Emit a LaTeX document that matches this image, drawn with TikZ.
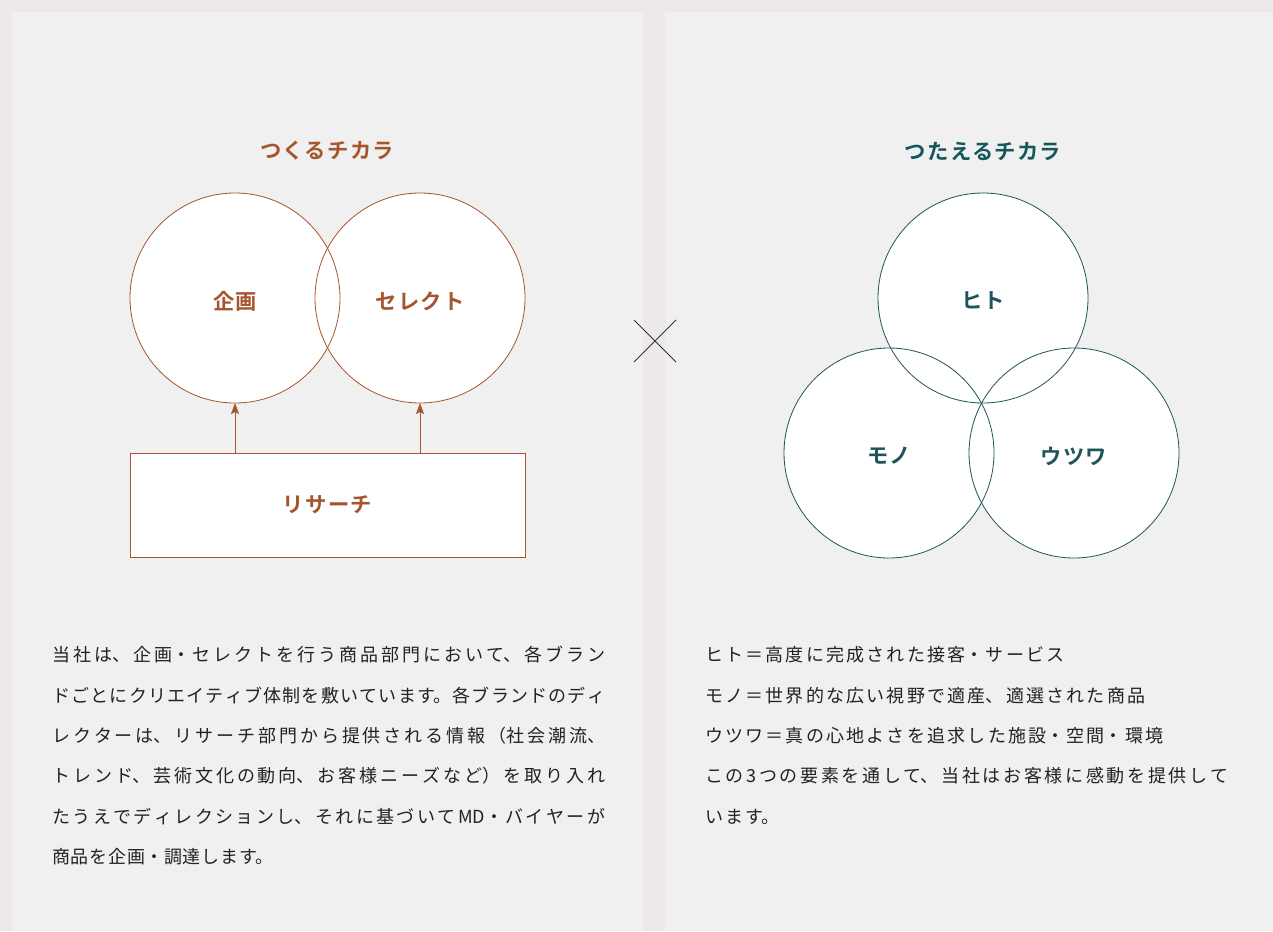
\documentclass[tikz,border=0pt]{standalone}
\usepackage{fontspec}
\usetikzlibrary{arrows.meta}
\setmainfont{Noto Sans CJK JP}
\newfontfamily\jpbody{Noto Sans CJK JP}
\newfontfamily\jptitle[LetterSpace=6]{Noto Sans CJK JP Bold}
\definecolor{outerbg}{HTML}{EDE9E8}
\definecolor{panelbg}{HTML}{EFF0EF}
\definecolor{brown}{HTML}{A6552F}
\definecolor{tealtitle}{HTML}{14585E}
\definecolor{tealline}{HTML}{1F5459}
\definecolor{bodytext}{HTML}{222222}
\newcommand{\jpjustify}[1]{\XeTeXlinebreaklocale "ja"\XeTeXlinebreakskip=#1 plus 6pt minus 1pt\relax
\tolerance=10000\parfillskip=0pt plus 1fil\relax}
\tikzset{
  panel/.style={fill=panelbg, draw=none},
  circfill/.style={circle, fill=white, minimum size=210pt, inner sep=0pt, draw=none},
  brownline/.style={draw=brown, line width=0.8pt},
  tealring/.style={draw=tealline, line width=0.8pt},
  titletext/.style={font=\jptitle\fontsize{21.3}{24}\selectfont, inner sep=0pt},
  bodypar/.style={anchor=base west, text=bodytext, inner sep=0pt, align=justify, font=\jpbody\fontsize{18}{40.3}\selectfont},
  uparrow/.style={draw=brown, line width=0.8pt, -{Stealth[length=11pt,width=8pt,inset=2pt]}},
  crossline/.style={draw=black!80, line width=0.9pt}
}
\begin{document}
\begin{tikzpicture}[x=1pt,y=-1pt]
\useasboundingbox (0,0) rectangle (1273,931);
\fill[outerbg] (0,0) rectangle (1273,931);
\path[panel] (12,12) rectangle (643,931);
\path[panel] (665,12) rectangle (1273,931);

% left diagram
\node[titletext, text=brown] (t1) at (327,151) {つくるチカラ};
\node[circfill] (kikaku) at (235,298) {};
\node[circfill] (select) at (420,298) {};
\draw[brownline] (kikaku.center) circle (105);
\draw[brownline] (select.center) circle (105);
\node[titletext, text=brown] (l1) at (235,301) {企画};
\node[titletext, text=brown] (l2) at (420,301) {セレクト};
\node[draw=brown, line width=0.8pt, fill=white, minimum width=395pt, minimum height=104pt, inner sep=0pt] (research) at (327.5,505) {};
\node[titletext, text=brown] (l3) at (327.5,505) {リサーチ};
\coordinate (a1s) at (235,453);
\coordinate (a2s) at (420,453);
\coordinate (a1e) at (235,403);
\coordinate (a2e) at (420,403);
\draw[uparrow] (a1s) -- (a1e);
\draw[uparrow] (a2s) -- (a2e);

% cross
\coordinate (x1) at (634,320);
\coordinate (x2) at (676,362);
\coordinate (x3) at (676,320);
\coordinate (x4) at (634,362);
\draw[crossline] (x1) -- (x2);
\draw[crossline] (x3) -- (x4);

% right diagram
\node[titletext, text=tealtitle] (t2) at (983,151) {つたえるチカラ};
\node[circfill] (hito) at (983,298) {};
\node[circfill] (mono) at (889,453) {};
\node[circfill] (utsuwa) at (1074,453) {};
\draw[tealring] (hito.center) circle (105);
\draw[tealring] (mono.center) circle (105);
\draw[tealring] (utsuwa.center) circle (105);
\node[titletext, text=tealline] (r1) at (983,301) {ヒト};
\node[titletext, text=tealline] (r2) at (889,456) {モノ};
\node[titletext, text=tealline] (r3) at (1074,456) {ウツワ};

% left text (justified)
\node[bodypar, text width=553pt] (leftpar) at (52,661.8) {%
\jpjustify{0.8pt}%
当社は、企画・セレクトを行う商品部門において、各ブラン\linebreak
ドごとにクリエイティブ体制を敷いています。各ブランドのディ\linebreak
レクターは、リサーチ部門から提供される情報（社会潮流、\linebreak
トレンド、芸術文化の動向、お客様ニーズなど）を取り入れ\linebreak
たうえでディレクションし、それに基づいてMD・バイヤーが\linebreak
商品を企画・調達します。};

% right text
\node[bodypar, text width=523pt] (rightpar) at (705,661.8) {%
\jpjustify{2.2pt}%
ヒト＝高度に完成された接客・サービス\\
モノ＝世界的な広い視野で適産、適選された商品\\
ウツワ＝真の心地よさを追求した施設・空間・環境\\
この3つの要素を通して、当社はお客様に感動を提供して\linebreak
います。};
\end{tikzpicture}
\end{document}
